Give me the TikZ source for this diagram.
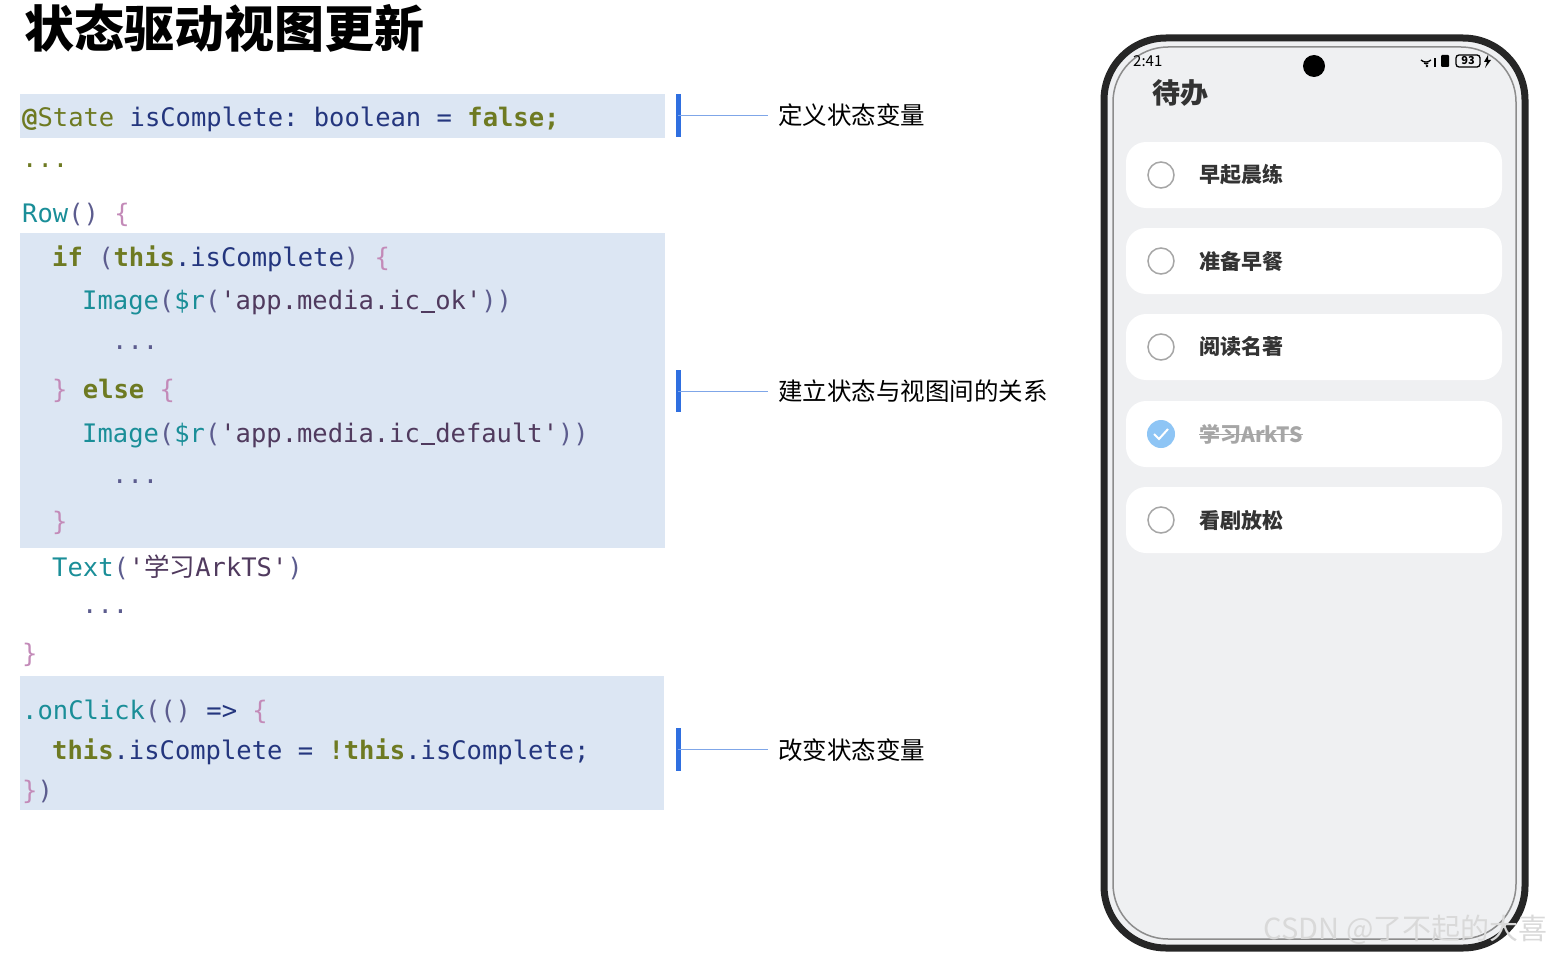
\documentclass[tikz,border=0pt]{standalone}
\usepackage{fontspec}
\usetikzlibrary{calc}
\setmainfont{Noto Sans CJK SC}
\setmonofont{DejaVu Sans Mono}
\newfontfamily\cjk{Noto Sans CJK SC}
\definecolor{hl}{HTML}{DCE6F3}
\definecolor{kwc}{HTML}{6E7A22}
\definecolor{fnc}{HTML}{1A8E98}
\definecolor{idc}{HTML}{24367E}
\definecolor{brc}{HTML}{C38AB8}
\definecolor{pac}{HTML}{5C5C8E}
\definecolor{stc}{HTML}{503A5E}
\definecolor{barc}{HTML}{2F6FE0}
\definecolor{lnkc}{HTML}{7FA6E8}
\definecolor{scr}{HTML}{EFF0F2}
\definecolor{okc}{HTML}{8EC5F5}
\newcommand{\K}[1]{\textcolor{kwc}{\bfseries #1}}
\newcommand{\F}[1]{\textcolor{fnc}{#1}}
\newcommand{\I}[1]{\textcolor{idc}{#1}}
\newcommand{\B}[1]{\textcolor{brc}{#1}}
\newcommand{\Pa}[1]{\textcolor{pac}{#1}}
\newcommand{\St}[1]{\textcolor{stc}{#1}}
\newcommand{\Dt}{\textcolor{kwc}{...}}
\newcommand{\us}{\makebox[0.602em][c]{\rule[-0.12em]{0.55em}{0.07em}}}
\begin{document}
\begin{tikzpicture}[x=1pt,y=-1pt,
  code/.style={anchor=west,inner sep=0pt,font=\fontsize{25.5}{28}\ttfamily},
  lbl/.style={anchor=west,inner sep=0pt,font=\fontsize{24.5}{28}\selectfont},
  bar/.style={barc,line width=5pt},
  lnk/.style={lnkc,line width=1pt},
  card/.style={fill=white,rounded corners=20pt,draw=none},
  chk/.style={circle,draw=black!35,line width=1.5pt,minimum size=26pt,inner sep=0pt},
  item/.style={anchor=west,inner sep=0pt,font=\fontsize{21}{24}\selectfont\bfseries,text=black!80}]
\useasboundingbox (0,0) rectangle (1551,958);
\node[anchor=west,inner sep=0pt,font=\fontsize{50}{54}\selectfont\bfseries] (title) at (24,28) {状态驱动视图更新};
% highlights
\fill[hl] (20,94) rectangle (665,138);
\fill[hl] (20,233) rectangle (665,548);
\fill[hl] (20,676) rectangle (664,810);
% code
\node[code] (c1) at (22,119) {\K{@}\textcolor{kwc}{State} \I{isComplete:} \I{boolean} \I{=} \K{false;}};
\node[code] (c2) at (22,166) {\Dt};
\node[code] (c3) at (22,215) {\F{Row}\Pa{()} \B{\{}};
\node[code] (c4) at (52,259) {\K{if} \Pa{(}\K{this}\I{.isComplete}\Pa{)} \B{\{}};
\node[code] (c5) at (82,303) {\F{Image}\Pa{(}\F{\$r}\Pa{(}\St{'app.media.ic\us ok'}\Pa{))}};
\node[code] (c6) at (112,348) {\textcolor{pac}{...}};
\node[code] (c7) at (52,391) {\B{\}} \K{else} \B{\{}};
\node[code] (c8) at (82,435) {\F{Image}\Pa{(}\F{\$r}\Pa{(}\St{'app.media.ic\us default'}\Pa{))}};
\node[code] (c9) at (112,482) {\textcolor{pac}{...}};
\node[code] (c10) at (52,523) {\B{\}}};
\node[code] (c11) at (52,567) {\F{Text}\Pa{(}\St{'{\cjk 学习}ArkTS'}\Pa{)}};
\node[code] (c12) at (82,612) {\textcolor{pac}{...}};
\node[code] (c13) at (22,655) {\B{\}}};
\node[code] (c14) at (22,712) {\F{.onClick}\Pa{(()} \I{=>} \B{\{}};
\node[code] (c15) at (52,752) {\K{this}\I{.isComplete = }\K{!this}\I{.isComplete;}};
\node[code] (c16) at (22,792) {\B{\}}\Pa{)}};
% bars and labels
\coordinate (b1t) at (678,94); \coordinate (b1b) at (678,137);
\coordinate (b2t) at (678,370); \coordinate (b2b) at (678,412);
\coordinate (b3t) at (678,728); \coordinate (b3b) at (678,771);
\draw[bar] (b1t) -- (b1b); \draw[bar] (b2t) -- (b2b); \draw[bar] (b3t) -- (b3b);
\node[lbl] (t1) at (778,115) {定义状态变量};
\node[lbl] (t2) at (778,391) {建立状态与视图间的关系};
\node[lbl] (t3) at (778,750) {改变状态变量};
\draw[lnk] ($(b1t)!0.5!(b1b)$) -- ++(90,0) coordinate (e1);
\draw[lnk] ($(b2t)!0.5!(b2b)$) -- ++(90,0) coordinate (e2);
\draw[lnk] ($(b3t)!0.5!(b3b)$) -- ++(90,0) coordinate (e3);
% phone
\draw[line width=7pt,black!85,fill=scr,rounded corners=62pt] (1104,38) rectangle (1525,948);
\draw[line width=1.5pt,black!45,rounded corners=55pt] (1113,47) rectangle (1516,939);
\fill[black] (1314,66) circle (11pt);
\node[anchor=west,inner sep=0pt,font=\fontsize{15}{18}\selectfont] (time) at (1133,61) {2:41};
% status icons
\begin{scope}[line width=1.3pt]
\draw (1421,60) arc[start angle=135,end angle=45,radius=7];
\draw (1424,63) arc[start angle=135,end angle=45,radius=3];
\fill (1427,66) circle (1.3);
\fill (1434,58) rectangle (1436,67);
\fill[rounded corners=1pt] (1441,55) rectangle (1449,67);
\draw[rounded corners=3pt] (1456,55) rectangle (1480,67);
\end{scope}
\node[inner sep=0pt,font=\fontsize{11}{12}\selectfont\bfseries] (bat) at (1468,61) {93};
\fill (1488,55) -- (1484,62) -- (1487,62) -- (1485,68) -- (1491,60) -- (1488,60) -- cycle;
\node[anchor=west,inner sep=0pt,font=\fontsize{28}{32}\selectfont\bfseries,text=black!80] (hdr) at (1152,93) {待办};
\foreach \y/\t/\n in {175/早起晨练/a,261/准备早餐/b,347/阅读名著/c,520/看剧放松/e}{
  \fill[card] (1126,\y-33) rectangle (1502,\y+33);
  \node[chk] (k\n) at (1161,\y) {};
  \node[item] (i\n) at (1199,\y) {\t};
}
\fill[card] (1126,401) rectangle (1502,467);
\node[circle,fill=okc,minimum size=28pt,inner sep=0pt] (kd) at (1161,434) {};
\draw[white,line width=2pt] (1154,434) -- (1159,439) -- (1168,429);
\node[item,text=black!35] (id) at (1199,434) {学习ArkTS};
\draw[black!35,line width=1pt] (id.west) -- (id.east);
\node[anchor=east,inner sep=0pt,font=\fontsize{29}{32}\selectfont,text=black!15] (wm) at (1548,930) {CSDN @了不起的大喜};
\end{tikzpicture}
\end{document}
